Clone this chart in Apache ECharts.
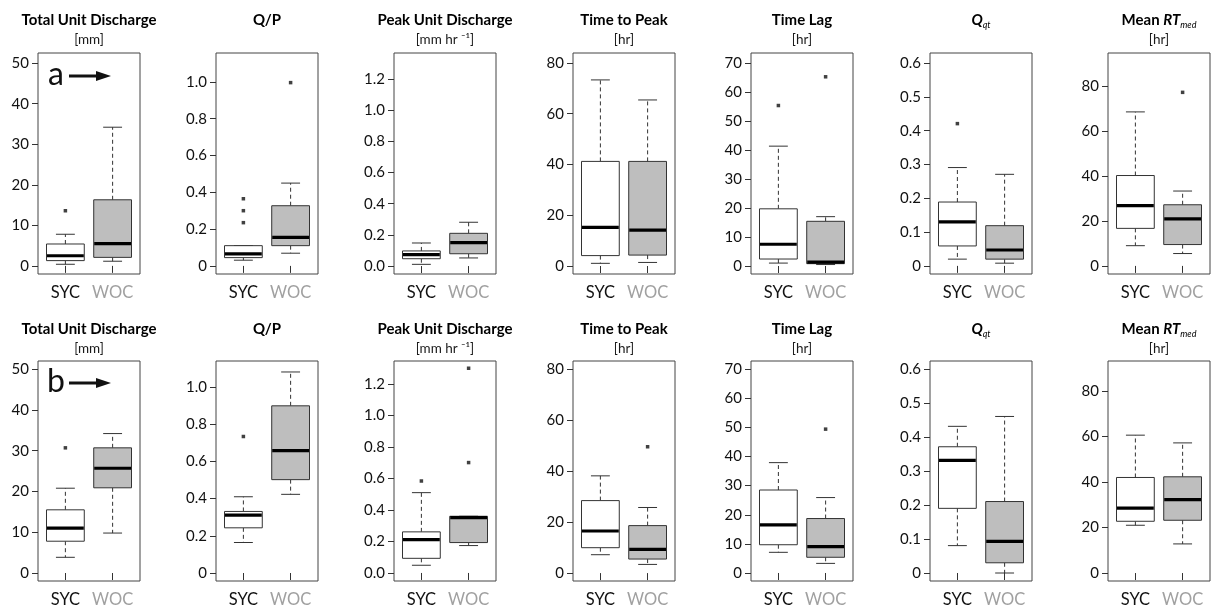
<!DOCTYPE html>
<html><head><meta charset="utf-8">
<script src="https://cdn.jsdelivr.net/npm/echarts@6/dist/echarts.min.js"></script>
<style>html,body{margin:0;padding:0;background:#fff}#c{width:1212px;height:608px}</style>
</head><body><div id="c"></div>
<script>
// ---- data ----
const titleTexts = ['{b|Total Unit Discharge}','{b|Q/P}','{b|Peak Unit Discharge}','{b|Time to Peak}','{b|Time Lag}','{bi|Q}{sub|qt}','{b|Mean }{bi|RT}{sub|med}'];
const unitTexts = ['[mm]','','[mm hr ⁻¹]','[hr]','[hr]','','[hr]'];
const groups = ['SYC','WOC'];
const rowLabels = ['a','b'];
const yTicks = [
  [0,10,20,30,40,50],
  [0,0.2,0.4,0.6,0.8,1.0],
  [0,0.2,0.4,0.6,0.8,1.0,1.2],
  [0,20,40,60,80],
  [0,10,20,30,40,50,60,70],
  [0,0.1,0.2,0.3,0.4,0.5,0.6],
  [0,20,40,60,80]
];
const yTickLabels = [
  ['0','10','20','30','40','50'],
  ['0','0.2','0.4','0.6','0.8','1.0'],
  ['0.0','0.2','0.4','0.6','0.8','1.0','1.2'],
  ['0','20','40','60','80'],
  ['0','10','20','30','40','50','60','70'],
  ['0','0.1','0.2','0.3','0.4','0.5','0.6'],
  ['0','20','40','60','80']
];
const yMinA = [-2.0,-0.044,-0.051,-3.15,-2.76,-0.024,-3.6];
const yMaxA = [52.5,1.157,1.367,83.9,73.4,0.630,94.7];
const yMinB = [-1.96,-0.043,-0.051,-3.1,-2.75,-0.0235,-3.5];
const yMaxB = [52.0,1.14,1.346,83.1,72.8,0.623,93.2];
// [whisker low, Q1, median, Q3, whisker high]
const statsA_SYC = [
  [0.4, 1.3, 2.5, 5.4, 7.8],
  [0.031, 0.045, 0.065, 0.11, 0.11],
  [0.011, 0.047, 0.073, 0.097, 0.148],
  [1.05, 4.1, 15.2, 41.2, 73.3],
  [1.0, 2.4, 7.5, 19.7, 41.3],
  [0.020, 0.059, 0.130, 0.189, 0.291],
  [9.0, 16.7, 26.8, 40.2, 68.5]
];
const statsA_WOC = [
  [1.15, 2.1, 5.5, 16.3, 34.2],
  [0.069, 0.11, 0.155, 0.327, 0.45],
  [0.052, 0.079, 0.150, 0.21, 0.281],
  [1.4, 4.3, 14.1, 41.2, 65.4],
  [0.5, 0.8, 1.3, 15.4, 17.0],
  [0.008, 0.020, 0.047, 0.119, 0.271],
  [5.5, 9.5, 20.9, 27.2, 33.3]
];
const outA_SYC = [[13.6],[0.235,0.30,0.365],[],[],[55.3],[0.421],[]];
const outA_WOC = [[],[0.996],[],[],[65.2],[],[77.2]];
const statsB_SYC = [
  [3.85, 7.8, 11.0, 15.5, 20.8],
  [0.164, 0.243, 0.311, 0.331, 0.41],
  [0.049, 0.093, 0.212, 0.261, 0.51],
  [7.2, 9.95, 16.5, 28.4, 38.1],
  [7.1, 9.7, 16.5, 28.5, 37.9],
  [0.0805, 0.19, 0.331, 0.371, 0.431],
  [21.0, 22.75, 28.5, 42.0, 60.6]
];
const statsB_WOC = [
  [9.8, 20.9, 25.7, 30.7, 34.2],
  [0.423, 0.502, 0.658, 0.899, 1.081],
  [0.174, 0.193, 0.352, 0.36, 0.36],
  [3.4, 5.5, 9.3, 18.6, 25.7],
  [3.3, 5.4, 9.05, 18.7, 25.9],
  [0.0, 0.030, 0.093, 0.21, 0.46],
  [12.8, 23.2, 32.3, 42.3, 57.2]
];
const outB_SYC = [[30.7],[0.734],[0.584],[],[],[],[]];
const outB_WOC = [[],[],[0.701,1.30],[49.5],[49.4],[],[]];

// ---- layout ----
const FONT = 'Lato, "Open Sans", sans-serif';
const colLeft = [38, 216, 394, 573, 751, 930, 1108];
const frameW = 102;
const rowTop = [53, 361];
const rowH = [221, 220];
const titleY = [20, 329];
const unitY = [40, 349];
const fills = ['#ffffff', '#bebebe'];

const rows = [
  {min: yMinA, max: yMaxA, stats: [statsA_SYC, statsA_WOC], outs: [outA_SYC, outA_WOC]},
  {min: yMinB, max: yMaxB, stats: [statsB_SYC, statsB_WOC], outs: [outB_SYC, outB_WOC]}
];

function renderBox(params, api) {
  const x = api.value(0);
  const lo = api.coord([x, api.value(1)]);
  const q1 = api.coord([x, api.value(2)]);
  const md = api.coord([x, api.value(3)]);
  const q3 = api.coord([x, api.value(4)]);
  const hi = api.coord([x, api.value(5)]);
  const bw = api.size([0.8, 0])[0];
  const cw = bw / 4;
  const cx = lo[0];
  const fill = fills[x < 1.5 ? 0 : 1];
  const dash = {stroke: '#333', lineWidth: 1, lineDash: [4, 3]};
  const solid = {stroke: '#333', lineWidth: 1};
  return {type: 'group', children: [
    {type: 'line', shape: {x1: cx, y1: q3[1], x2: cx, y2: hi[1]}, style: dash},
    {type: 'line', shape: {x1: cx, y1: q1[1], x2: cx, y2: lo[1]}, style: dash},
    {type: 'line', shape: {x1: cx - cw, y1: hi[1], x2: cx + cw, y2: hi[1]}, style: solid},
    {type: 'line', shape: {x1: cx - cw, y1: lo[1], x2: cx + cw, y2: lo[1]}, style: solid},
    {type: 'rect', shape: {x: cx - bw / 2, y: q3[1], width: bw, height: q1[1] - q3[1]}, style: {fill: fill, stroke: '#333', lineWidth: 1}},
    {type: 'line', shape: {x1: cx - bw / 2 + 0.5, y1: md[1], x2: cx + bw / 2 - 0.5, y2: md[1]}, style: {stroke: '#000', lineWidth: 3.2}}
  ]};
}

const grid = [], xAxis = [], yAxis = [], series = [], graphic = [];
rows.forEach((row, r) => {
  for (let c = 0; c < 7; c++) {
    const gi = r * 7 + c;
    grid.push({left: colLeft[c], top: rowTop[r], width: frameW, height: rowH[r], show: true, borderColor: '#444', borderWidth: 1, backgroundColor: 'transparent'});
    xAxis.push({
      type: 'value', gridIndex: gi, min: 0.42, max: 2.58,
      axisLine: {show: false}, splitLine: {show: false},
      axisTick: {show: true, customValues: [1, 2], length: 7, lineStyle: {color: '#333'}},
      axisLabel: {show: true, customValues: [1, 2], margin: 10,
        formatter: v => (v < 1.5 ? '{s|' + groups[0] + '}' : '{w|' + groups[1] + '}'),
        rich: {s: {color: '#111', fontSize: 16.5, fontFamily: FONT}, w: {color: '#a0a0a0', fontSize: 16.5, fontFamily: FONT}}}
    });
    const ticks = yTicks[c], labs = yTickLabels[c];
    yAxis.push({
      type: 'value', gridIndex: gi, min: row.min[c], max: row.max[c],
      axisLine: {show: false}, splitLine: {show: false},
      axisTick: {show: true, customValues: ticks, length: 6, lineStyle: {color: '#333'}},
      axisLabel: {show: true, customValues: ticks, margin: 9, color: '#111', fontSize: 15, fontFamily: FONT,
        formatter: v => { const k = ticks.findIndex(t => Math.abs(t - v) < 1e-9); return k >= 0 ? labs[k] : ''; }}
    });
    const data = [0, 1].map(g => [g + 1].concat(row.stats[g][c]));
    series.push({
      type: 'custom', xAxisIndex: gi, yAxisIndex: gi, renderItem: renderBox,
      encode: {x: 0, y: [1, 2, 3, 4, 5]}, data: data, silent: true, clip: false
    });
    const outData = [];
    [0, 1].forEach(g => row.outs[g][c].forEach(v => outData.push([g + 1, v])));
    series.push({
      type: 'scatter', xAxisIndex: gi, yAxisIndex: gi, data: outData,
      symbol: 'rect', symbolSize: 3.5, itemStyle: {color: '#111'}, silent: true
    });
    const cx = colLeft[c] + frameW / 2;
    graphic.push({type: 'text', x: cx, y: titleY[r], style: {
      text: titleTexts[c], align: 'center', verticalAlign: 'middle',
      rich: {
        b: {fontFamily: FONT, fontWeight: 'bold', fontSize: 15, color: '#1a1a1a', lineHeight: 20},
        bi: {fontFamily: FONT, fontWeight: 'bold', fontStyle: 'italic', fontSize: 15, color: '#1a1a1a', lineHeight: 20},
        sub: {fontFamily: FONT, fontStyle: 'italic', fontSize: 9, color: '#1a1a1a', lineHeight: 12, verticalAlign: 'bottom'}
      }}});
    if (unitTexts[c]) {
      graphic.push({type: 'text', x: cx, y: unitY[r], style: {
        text: unitTexts[c], align: 'center', verticalAlign: 'middle',
        fontFamily: FONT, fontSize: 13.5, fill: '#1a1a1a'}});
    }
  }
});

// panel labels with arrows (annotations)
const labelY = [75, 382];
rowLabels.forEach((lab, r) => {
  graphic.push({type: 'text', x: 56, y: labelY[r], style: {text: lab, align: 'center', verticalAlign: 'middle', fontFamily: FONT, fontSize: 32, fill: '#111'}});
  graphic.push({type: 'line', shape: {x1: 69, y1: labelY[r] + 1, x2: 98, y2: labelY[r] + 1}, style: {stroke: '#111', lineWidth: 3}});
  graphic.push({type: 'polygon', shape: {points: [[96, labelY[r] - 4], [111, labelY[r] + 1], [96, labelY[r] + 6]]}, style: {fill: '#111'}});
});

const chart = echarts.init(document.getElementById('c'), null, {renderer: 'canvas'});
chart.setOption({animation: false, backgroundColor: '#fff', grid, xAxis, yAxis, series, graphic});
</script></body></html>
